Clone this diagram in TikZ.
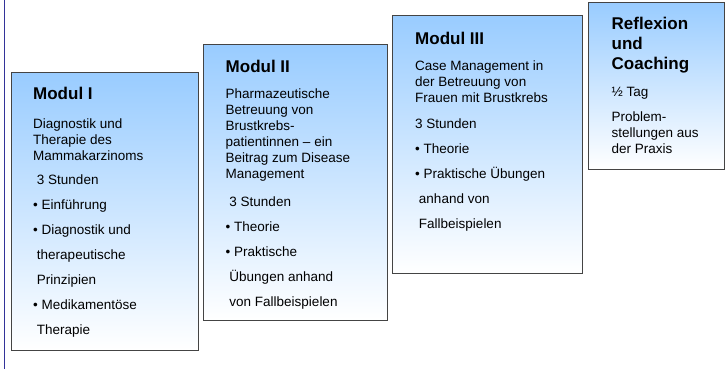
\documentclass[tikz,border=0pt]{standalone}
\usepackage{fontspec}
\setmainfont{Liberation Sans}
\usetikzlibrary{calc}
\definecolor{modulblau}{RGB}{153,204,255}
\definecolor{rahmen}{RGB}{68,68,68}
\definecolor{leistenblau}{RGB}{51,51,153}
\tikzset{
	modul/.style={draw=rahmen, line width=0.9pt, top color=modulblau, bottom color=white,
		anchor=north west, inner sep=0pt},
	titel/.style={anchor=base west, inner sep=0pt, align=left,
		font=\fontsize{17}{20}\selectfont\bfseries},
	inhalt/.style={anchor=base west, inner sep=0pt, align=left,
		font=\fontsize{13.5}{16}\selectfont}
}
\newcommand{\einr}{\hspace*{0.28em}}

\begin{document}
\begin{tikzpicture}[x=1pt,y=-1pt]
	\useasboundingbox (0,0) rectangle (728,369);
	\coordinate (L1) at (4,0);
	\coordinate (L2) at (4,369);
	\draw[leistenblau, line width=0.9pt] (L1) -- (L2);

	\node[modul, minimum width=186.5pt, minimum height=277.5pt] (m1) at (11,72) {};
	\node[modul, minimum width=184pt, minimum height=276pt] (m2) at (203,44) {};
	\node[modul, minimum width=190pt, minimum height=258pt] (m3) at (392,15) {};
	\node[modul, minimum width=136pt, minimum height=167pt] (m4) at (588,2) {};

	% multi-line nodes sit on their last baseline
	\node[titel] (t1) at (33,99.3) {Modul I};
	\node[inhalt] (i1) at (33,334) {Diagnostik und\\Therapie des\\Mammakarzinoms\\[8pt]
		\einr 3 Stunden\\[9pt] • Einführung\\[9pt] • Diagnostik und\\[9pt]
		\einr therapeutische\\[9pt] \einr Prinzipien\\[9pt] • Medikamentöse\\[9pt]
		\einr Therapie};

	\node[titel] (t2) at (225.5,72) {Modul II};
	\node[inhalt] (i2) at (225.5,306.5) {Pharmazeutische\\Betreuung von\\Brustkrebs-\\
		patientinnen – ein\\Beitrag zum Disease\\Management\\[12.5pt]
		\einr 3 Stunden\\[9pt] • Theorie\\[9pt] • Praktische\\[9pt]
		\einr Übungen anhand\\[9pt] \einr von Fallbeispielen};

	\node[titel] (t3) at (415,44.3) {Modul III};
	\node[inhalt] (i3) at (415,228) {Case Management in\\der Betreuung von\\
		Frauen mit Brustkrebs\\[10pt] 3 Stunden\\[9pt] • Theorie\\[9pt]
		• Praktische Übungen\\[9pt] \einr anhand von\\[9pt] \einr Fallbeispielen};

	\node[titel] (t4) at (611.5,69.3) {Reflexion\\und\\Coaching};
	\node[inhalt] (i4) at (611.5,153.5) {½ Tag\\[9pt] Problem-\\stellungen aus\\der Praxis};
\end{tikzpicture}
\end{document}
